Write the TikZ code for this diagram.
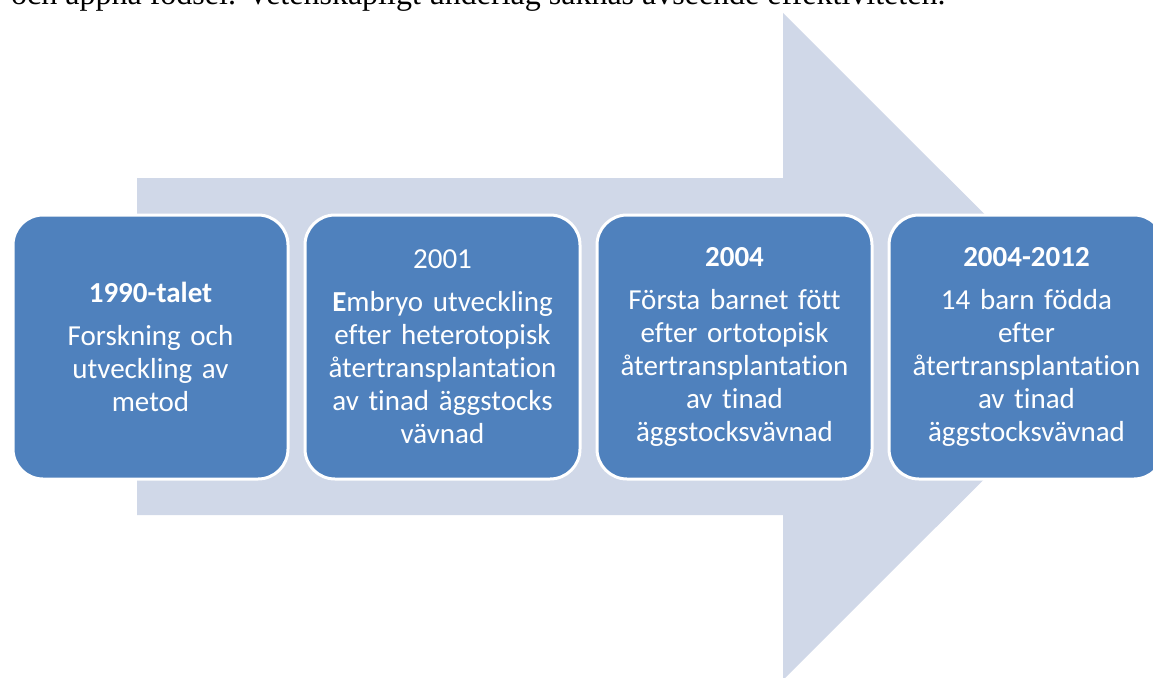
\documentclass[tikz,border=0pt]{standalone}
\usepackage{fontspec}
\setmainfont{Carlito}[Ligatures={NoCommon}]
\newfontfamily\serifbody{Liberation Serif}
\definecolor{boxblue}{HTML}{4F81BD}
\definecolor{arrowgrey}{HTML}{D0D8E8}
\tikzset{
  stagebox/.style={rectangle, rounded corners=30pt, fill=boxblue, draw=white,
    line width=3pt, text=white, align=center, text width=265pt, inner sep=0pt,
    minimum width=275pt, minimum height=264pt,
    font=\fontsize{29}{33}\selectfont},
  bodytext/.style={anchor=base west, inner sep=0pt, text=black,
    font=\serifbody\fontsize{32}{36}\selectfont}
}
\begin{document}
\begin{tikzpicture}[x=1pt,y=-1pt]
\useasboundingbox (0,0) rectangle (1153,677);
\begin{scope}
\clip (0,0) rectangle (1153,677);
\fill[white] (0,0) rectangle (1153,677);
\node[bodytext] (line) at (11,5) {och äppna födsel. Vetenskapligt underlag saknas avseende effektiviteten.};
\fill[arrowgrey] (137,178) -- (783,178) -- (783,13) -- (1117,346.5) -- (783,680) -- (783,515) -- (137,515) -- cycle;
\node[stagebox] (b1) at (150.5,347) {\textbf{1990-talet}\\[10pt]Forskning och\\utveckling av\\metod};
\node[stagebox] (b2) at (442.5,347) {2001\\[10pt]\textbf{E}mbryo utveckling\\efter heterotopisk\\återtransplantation\\av tinad äggstocks\\vävnad};
\node[stagebox] (b3) at (734.5,347) {\textbf{2004}\\[10pt]Första barnet fött\\efter ortotopisk\\återtransplantation\\av tinad\\äggstocksvävnad};
\node[stagebox] (b4) at (1026.5,347) {\textbf{2004-2012}\\[10pt]14 barn födda\\efter\\återtransplantation\\av tinad\\äggstocksvävnad};
\end{scope}
\end{tikzpicture}
\end{document}
